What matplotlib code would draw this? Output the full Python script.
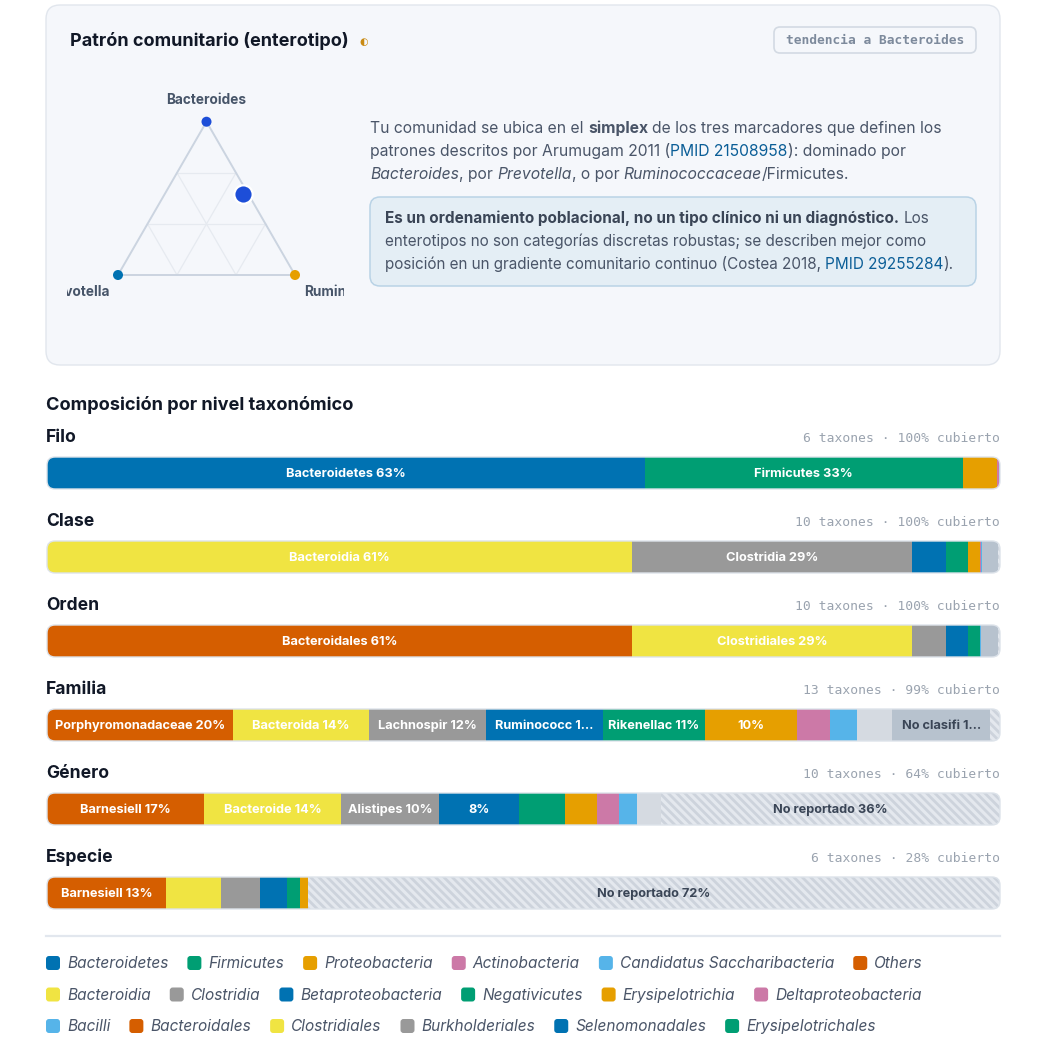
import matplotlib
matplotlib.use("Agg")
import matplotlib.pyplot as plt
import numpy as np
from matplotlib.patches import FancyBboxPatch

# ===================== data =====================
ternary_labels = ["Bacteroides", "Prevotella", "Ruminococcaceae"]
sample_share = [0.53, 0.03, 0.44]          # Bacteroides, Prevotella, Ruminococcaceae

level_names = ["Filo", "Clase", "Orden", "Familia", "Género", "Especie"]
level_meta = ["6 taxones · 100% cubierto", "10 taxones · 100% cubierto",
              "10 taxones · 100% cubierto", "13 taxones · 99% cubierto",
              "10 taxones · 64% cubierto", "6 taxones · 28% cubierto"]

filo_values = [62.7, 33.4, 3.6, 0.15, 0.1, 0.05]
filo_colors = ["blue", "green", "orange", "pink", "sky", "verm"]
filo_labels = ["Bacteroidetes 63%", "Firmicutes 33%", "", "", "", ""]

clase_values = [61.4, 29.4, 3.5, 2.3, 1.3, 0.15, 0.05, 1.7, 0.2]
clase_colors = ["yellow", "gray", "blue", "green", "orange", "pink", "sky",
                "unclassified", "unreported"]
clase_labels = ["Bacteroidia 61%", "Clostridia 29%", "", "", "", "", "", "", ""]

orden_values = [61.4, 29.4, 3.5, 2.3, 1.3, 0.1, 1.8, 0.2]
orden_colors = ["verm", "yellow", "gray", "blue", "green", "sky",
                "unclassified", "unreported"]
orden_labels = ["Bacteroidales 61%", "Clostridiales 29%", "", "", "", "", "", ""]

familia_values = [19.5, 14.3, 12.3, 12.2, 10.7, 9.7, 3.5, 2.8, 3.7, 10.3, 1.0]
familia_colors = ["verm", "yellow", "gray", "blue", "green", "orange", "pink", "sky",
                  "other", "unclassified", "unreported"]
familia_labels = ["Porphyromonadaceae 20%", "Bacteroida 14%", "Lachnospir 12%",
                  "Ruminococc 1…", "Rikenellac 11%", "10%", "", "", "",
                  "No clasifi 1…", ""]

genero_values = [16.5, 14.4, 10.2, 8.4, 4.9, 3.3, 2.3, 1.9, 2.5, 35.6]
genero_colors = ["verm", "yellow", "gray", "blue", "green", "orange", "pink", "sky",
                 "other", "unreported"]
genero_labels = ["Barnesiell 17%", "Bacteroide 14%", "Alistipes 10%", "8%",
                 "", "", "", "", "", "No reportado 36%"]

especie_values = [12.5, 5.8, 4.1, 2.8, 1.4, 0.8, 72.6]
especie_colors = ["verm", "yellow", "gray", "blue", "green", "orange", "unreported"]
especie_labels = ["Barnesiell 13%", "", "", "", "", "", "No reportado 72%"]

legend_labels = ["Bacteroidetes", "Firmicutes", "Proteobacteria", "Actinobacteria",
                 "Candidatus Saccharibacteria", "Others",
                 "Bacteroidia", "Clostridia", "Betaproteobacteria", "Negativicutes",
                 "Erysipelotrichia", "Deltaproteobacteria",
                 "Bacilli", "Bacteroidales", "Clostridiales", "Burkholderiales",
                 "Selenomonadales", "Erysipelotrichales"]
legend_colors = ["blue", "green", "orange", "pink", "sky", "verm",
                 "yellow", "gray", "blue", "green", "orange", "pink",
                 "sky", "verm", "yellow", "gray", "blue", "green"]

# ===================== style =====================
PAL = {"blue": "#0072B2", "green": "#009E73", "orange": "#E69F00", "pink": "#CC79A7",
       "sky": "#56B4E9", "verm": "#D55E00", "yellow": "#F0E442", "gray": "#999999",
       "other": "#D5DAE1", "unclassified": "#B7C2CE", "unreported": "#E4E8EE"}
STRIPE = "#CDD3DC"
SANS = ["Inter", "DejaVu Sans"]
MONO = ["DejaVu Sans Mono"]
DARK = "#111827"
BODY = "#4A5568"
LINK = "#0B5E97"
plt.rcParams["hatch.linewidth"] = 2.0

W = H = 1043
fig = plt.figure(figsize=(W / 100, H / 100), dpi=100)
fig.patch.set_facecolor("white")
bg = fig.add_axes([0, 0, 1, 1])
bg.set_xlim(0, W)
bg.set_ylim(H, 0)
bg.axis("off")
bg.set_zorder(0)
renderer = fig.canvas.get_renderer()


def measure(s, **kw):
    t = bg.text(0, 0, "|" + s + "|", **kw)
    w = t.get_window_extent(renderer).width
    t.remove()
    t = bg.text(0, 0, "||", **kw)
    w0 = t.get_window_extent(renderer).width
    t.remove()
    return w - w0


def rbox(ax, x, y, w, h, r, fc, ec, lw, z=1):
    p = FancyBboxPatch((x, y), w, h, boxstyle=f"round,pad=0,rounding_size={r}",
                       fc=fc, ec=ec, lw=lw, transform=bg.transData, zorder=z)
    ax.add_patch(p)
    return p


def rich(x, y, parts, size, color):
    for s, st in parts:
        kw = dict(fontsize=size, family=SANS, color=color)
        if "b" in st:
            kw["fontweight"] = "bold"
        if "i" in st:
            kw["fontstyle"] = "italic"
        if "l" in st:
            kw["color"] = LINK
        if "d" in st:
            kw["color"] = "#3A4556"
        lead = len(s) - len(s.lstrip(" "))
        off = measure(s[:lead], **kw) if lead else 0
        bg.text(x + off, y, s.strip(" "), va="baseline", ha="left", **kw)
        x += measure(s, **kw)


# ===================== top card =====================
rbox(bg, 46, 5, 954, 360, 14, "#F5F7FB", "#E1E6ED", 1.0)
bg.text(70, 46, "Patrón comunitario (enterotipo)", family=SANS, fontweight="bold",
        fontsize=13.0, color=DARK, va="baseline")
bg.text(364, 41.5, "◐", family=["DejaVu Sans"], fontsize=7, color="#C98A12",
        ha="center", va="center")
rbox(bg, 774, 27, 202, 26, 6, "#F5F7FB", "#D3DAE3", 1.2)
bg.text(875, 40.5, "tendencia a Bacteroides", family=MONO, fontweight="bold",
        fontsize=9.3, color="#7D8A9C", ha="center", va="center")

# paragraph
PS = 11.3
rich(370, 133, [("Tu comunidad se ubica en el ", ""), ("simplex", "b"),
                (" de los tres marcadores que definen los", "")], PS, BODY)
rich(370, 156, [("patrones descritos por Arumugam 2011 (", ""), ("PMID 21508958", "l"),
                ("): dominado por", "")], PS, BODY)
rich(370, 179, [("Bacteroides", "i"), (", por ", ""), ("Prevotella", "i"),
                (", o por ", ""), ("Ruminococcaceae", "i"), ("/Firmicutes.", "")], PS, BODY)

NS = 11.0
rbox(bg, 370, 197, 606, 89, 10, "#E4EEF5", "#B9D3E6", 1.1)
rich(385, 223, [("Es un ordenamiento poblacional, no un tipo clínico ni un diagnóstico.", "bd"),
                (" Los", "")], NS, BODY)
rich(385, 246, [("enterotipos no son categorías discretas robustas; se describen mejor como", "")],
     NS, BODY)
rich(385, 269, [("posición en un gradiente comunitario continuo (Costea 2018, ", ""),
                ("PMID 29255284", "l"), (").", "")], NS, BODY)

# ===================== ternary =====================
SC = 177.0
tern = fig.add_axes([67 / W, 1 - 310 / H, 277 / W, 225 / H])
tern.set_zorder(2)
tern.axis("off")
tern.set_xlim((67 - 118) / SC, (344 - 118) / SC)
tern.set_ylim((275 - 310) / SC, (275 - 85) / SC)
hgt = np.sqrt(3) / 2


def to_xy(b, p, r):
    tot = b + p + r
    return (r + 0.5 * b) / tot, hgt * b / tot


for k in (1 / 3, 2 / 3):
    for a, bb in [((k, 1 - k, 0), (k, 0, 1 - k)),
                  ((1 - k, k, 0), (0, k, 1 - k)),
                  ((1 - k, 0, k), (0, 1 - k, k))]:
        p1, p2 = to_xy(*a), to_xy(*bb)
        tern.plot([p1[0], p2[0]], [p1[1], p2[1]], color="#E6EAF0", lw=0.9, zorder=1)

verts = [to_xy(1, 0, 0), to_xy(0, 1, 0), to_xy(0, 0, 1)]
tx = [v[0] for v in verts] + [verts[0][0]]
ty = [v[1] for v in verts] + [verts[0][1]]
tern.plot(tx, ty, color="#CBD4E0", lw=1.4, zorder=2, solid_joinstyle="round")
tern.scatter([v[0] for v in verts], [v[1] for v in verts],
             c=["#1D4ED8", "#0072B2", "#E69F00"], s=52, linewidths=0, zorder=3)
sx, sy = to_xy(*sample_share)
tern.scatter([sx], [sy], c="#1D4ED8", s=175, edgecolors="white", linewidths=1.6, zorder=4)

lab_kw = dict(family=SANS, fontweight="bold", fontsize=9.8, color="#475569",
              va="baseline", clip_on=True)
tern.text(verts[0][0], verts[0][1] + 0.1, ternary_labels[0], ha="center", **lab_kw)
tern.text(verts[1][0] - 0.045, verts[1][1] - 0.118, ternary_labels[1], ha="right", **lab_kw)
tern.text(verts[2][0] + 0.05, verts[2][1] - 0.118, ternary_labels[2], ha="left", **lab_kw)

# ===================== composition bars =====================
bg.text(46, 410, "Composición por nivel taxonómico", family=SANS, fontweight="bold",
        fontsize=13.1, color=DARK, va="baseline")

all_values = [filo_values, clase_values, orden_values, familia_values, genero_values,
              especie_values]
all_colors = [filo_colors, clase_colors, orden_colors, familia_colors, genero_colors,
              especie_colors]
all_labels = [filo_labels, clase_labels, orden_labels, familia_labels, genero_labels,
              especie_labels]

for i, (name, meta, vals, cols, labs) in enumerate(
        zip(level_names, level_meta, all_values, all_colors, all_labels)):
    top = 457 + 84 * i
    bg.text(46, top - 14.5, name, family=SANS, fontweight="bold", fontsize=12.6,
            color=DARK, va="baseline")
    bg.text(1000, top - 14.5, meta, family=MONO, fontsize=9.35, color="#9AA3AF",
            ha="right", va="baseline")
    ax = fig.add_axes([47 / W, 1 - (top + 32) / H, 953 / W, 32 / H])
    ax.set_zorder(3)
    ax.patch.set_alpha(0)
    ax.axis("off")
    ax.set_xlim(0, 100)
    ax.set_ylim(0, 1)
    clip = FancyBboxPatch((47, top), 953, 32, boxstyle="round,pad=0,rounding_size=8",
                          transform=bg.transData)
    lefts = np.concatenate([[0], np.cumsum(vals)[:-1]])
    for v, l, c, lab in zip(vals, lefts, cols, labs):
        if c == "unreported":
            bars = ax.barh(0.5, v, left=l, height=1, color=PAL[c], edgecolor=STRIPE,
                           lw=0, hatch="\\\\\\\\")
        else:
            bars = ax.barh(0.5, v, left=l, height=1, color=PAL[c], lw=0)
        for b in bars:
            b.set_clip_path(clip)
        if lab:
            tc = "#3A4556" if c in ("unreported", "unclassified") else "white"
            ax.text(l + v / 2, 0.47, lab, family=SANS, fontweight="bold", fontsize=9.2,
                    color=tc, ha="center", va="center", zorder=5)
    outline = FancyBboxPatch((47, top), 953, 32, boxstyle="round,pad=0,rounding_size=8",
                             fc="none", ec="#DDE3EA", lw=1.0, transform=bg.transData,
                             zorder=6, clip_on=False)
    ax.add_patch(outline)

# ===================== legend =====================
bg.plot([46, 1000], [936, 936], color="#E2E7EE", lw=1.6)
LS = 11.1
x = 46
row = 0
for lab, c in zip(legend_labels, legend_colors):
    kw = dict(family=SANS, fontstyle="italic", fontsize=LS, color="#4A5568")
    tw = measure(lab, **kw)
    item_w = 21 + tw
    if x + item_w > 1000:
        row += 1
        x = 46
    yc = 963 + 31.5 * row
    rbox(bg, x, yc - 7, 14, 14, 3, PAL[c], "none", 0, z=2)
    bg.text(x + 21, yc + 5.3, lab, va="baseline", ha="left", **kw)
    x += item_w + 19

fig.savefig("out.png", dpi=100, facecolor="white")
